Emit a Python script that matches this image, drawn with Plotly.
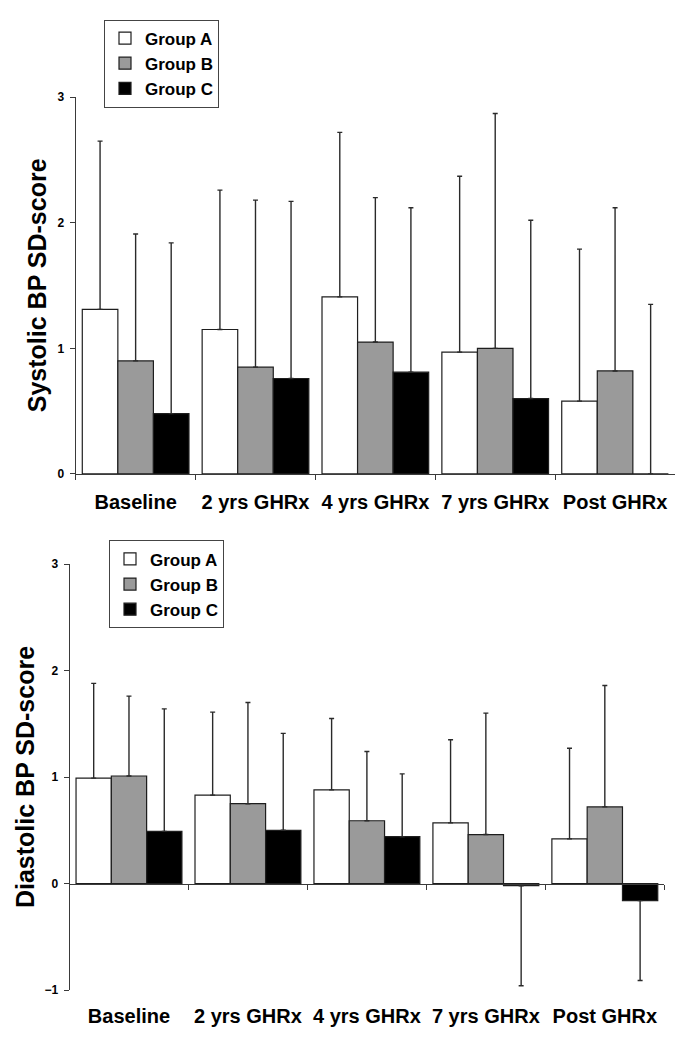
import plotly.graph_objects as go

# ---------------- data ----------------
categories = ["Baseline", "2 yrs GHRx", "4 yrs GHRx", "7 yrs GHRx", "Post GHRx"]
group_names = ["Group A", "Group B", "Group C"]

# Systolic BP SD-score (mean, SD)
sys_a = [1.31, 1.15, 1.41, 0.97, 0.58]
sys_a_sd = [1.34, 1.11, 1.31, 1.40, 1.21]
sys_b = [0.90, 0.85, 1.05, 1.00, 0.82]
sys_b_sd = [1.01, 1.33, 1.15, 1.87, 1.30]
sys_c = [0.48, 0.76, 0.81, 0.60, 0.00]
sys_c_sd = [1.36, 1.41, 1.31, 1.42, 1.35]

# Diastolic BP SD-score (mean, SD)
dia_a = [0.99, 0.83, 0.88, 0.57, 0.42]
dia_a_sd = [0.89, 0.78, 0.67, 0.78, 0.85]
dia_b = [1.01, 0.75, 0.59, 0.46, 0.72]
dia_b_sd = [0.75, 0.95, 0.65, 1.14, 1.14]
dia_c = [0.49, 0.50, 0.44, -0.02, -0.16]
dia_c_sd = [1.15, 0.91, 0.59, 0.94, 0.75]

sys_ticks = [0, 1, 2, 3]
dia_ticks = [-1, 0, 1, 2, 3]

y_title_sys = "Systolic BP SD-score"
y_title_dia = "Diastolic BP SD-score"

# ---------------- style ----------------
W, H = 675, 1038
FONT = "Liberation Sans, Arial, Helvetica, sans-serif"
colors = ["#ffffff", "#9a9a9a", "#000000"]
OUTLINE = "#1e1e1e"
AXIS = "#3a3a3a"


def px(p):
    return p / W


def py(p):
    return 1 - p / H


fig = go.Figure()


def add_group(vals, sds, name, color, xa, ya, legend, show):
    plus = [s if v >= 0 else 0 for v, s in zip(vals, sds)]
    minus = [s if v < 0 else 0 for v, s in zip(vals, sds)]
    fig.add_trace(go.Bar(
        x=categories, y=vals, name=name,
        marker=dict(color=color, line=dict(color=OUTLINE, width=1.2)),
        error_y=dict(type="data", symmetric=False, array=plus, arrayminus=minus,
                     color="#2a2a2a", thickness=1.4, width=2.5),
        xaxis=xa, yaxis=ya, legend=legend, showlegend=show,
    ))


for vals, sds, name, col in zip([sys_a, sys_b, sys_c], [sys_a_sd, sys_b_sd, sys_c_sd],
                                group_names, colors):
    add_group(vals, sds, name, col, "x", "y", "legend", True)

for vals, sds, name, col in zip([dia_a, dia_b, dia_c], [dia_a_sd, dia_b_sd, dia_c_sd],
                                group_names, colors):
    add_group(vals, sds, name, col, "x2", "y2", "legend2", True)

tickfont_cat = dict(family=FONT, size=20, color="#000", weight="bold")
tickfont_y = dict(family=FONT, size=12, color="#000", weight="bold")
legfont = dict(family=FONT, size=17, color="#000", weight="bold")

# top panel geometry (pixels)
top_x0, top_x1 = 75.7, 675.0
top_y0, top_y3 = 473.3, 91.4
# bottom panel geometry (pixels)
bot_x0, bot_x1 = 69.5, 664.3
bot_ym1, bot_y3 = 996.5, 564.7
bot_zero = bot_ym1 - (bot_ym1 - bot_y3) / 4

common_x = dict(type="category", showline=True, linecolor=AXIS, linewidth=1,
                ticks="outside", tickson="boundaries", ticklen=5, tickcolor=AXIS,
                tickwidth=1, showgrid=False, tickfont=tickfont_cat,
                range=[-0.5, len(categories) - 0.5], fixedrange=True)
common_y = dict(showline=True, linecolor=AXIS, linewidth=1, ticks="outside",
                ticklen=5, tickcolor=AXIS, tickwidth=1, showgrid=False,
                zeroline=False, tickfont=tickfont_y, ticklabelstandoff=3,
                fixedrange=True)

fig.update_layout(
    width=W, height=H, autosize=False,
    margin=dict(l=0, r=0, t=0, b=0),
    paper_bgcolor="white", plot_bgcolor="white",
    barmode="group", bargap=0.11, bargroupgap=0,
    xaxis=dict(common_x, domain=[px(top_x0), px(top_x1)], anchor="y",
               ticklabelstandoff=10),
    yaxis=dict(common_y, domain=[py(top_y0), py(top_y3)], anchor="x",
               range=[0, 3], tickvals=sys_ticks),
    xaxis2=dict(common_x, domain=[px(bot_x0), px(bot_x1)], anchor="free",
                position=py(bot_zero), ticklabelstandoff=114),
    yaxis2=dict(common_y, domain=[py(bot_ym1), py(bot_y3)], anchor="x2",
                range=[-1, 3], tickvals=dia_ticks),
    legend=dict(x=px(104), y=py(12.7), xanchor="left", yanchor="top",
                bgcolor="white", bordercolor="#444", borderwidth=1,
                font=legfont, tracegroupgap=0),
    legend2=dict(x=px(109), y=py(540.7), xanchor="left", yanchor="top",
                 bgcolor="white", bordercolor="#444", borderwidth=1,
                 font=legfont, tracegroupgap=0),
    annotations=[
        dict(text=y_title_sys, xref="paper", yref="paper", x=px(36.7),
             y=py((top_y0 + top_y3) / 2), xanchor="center", yanchor="middle",
             textangle=-90, showarrow=False,
             font=dict(family=FONT, size=25, color="#000", weight="bold")),
        dict(text=y_title_dia, xref="paper", yref="paper", x=px(25),
             y=py((bot_ym1 + bot_y3) / 2), xanchor="center", yanchor="middle",
             textangle=-90, showarrow=False,
             font=dict(family=FONT, size=25, color="#000", weight="bold")),
    ],
)

fig.write_html(
    "out.html",
    config={"displayModeBar": False, "staticPlot": False},
    post_script="document.body.style.margin='0';document.body.style.overflow='hidden';",
)
